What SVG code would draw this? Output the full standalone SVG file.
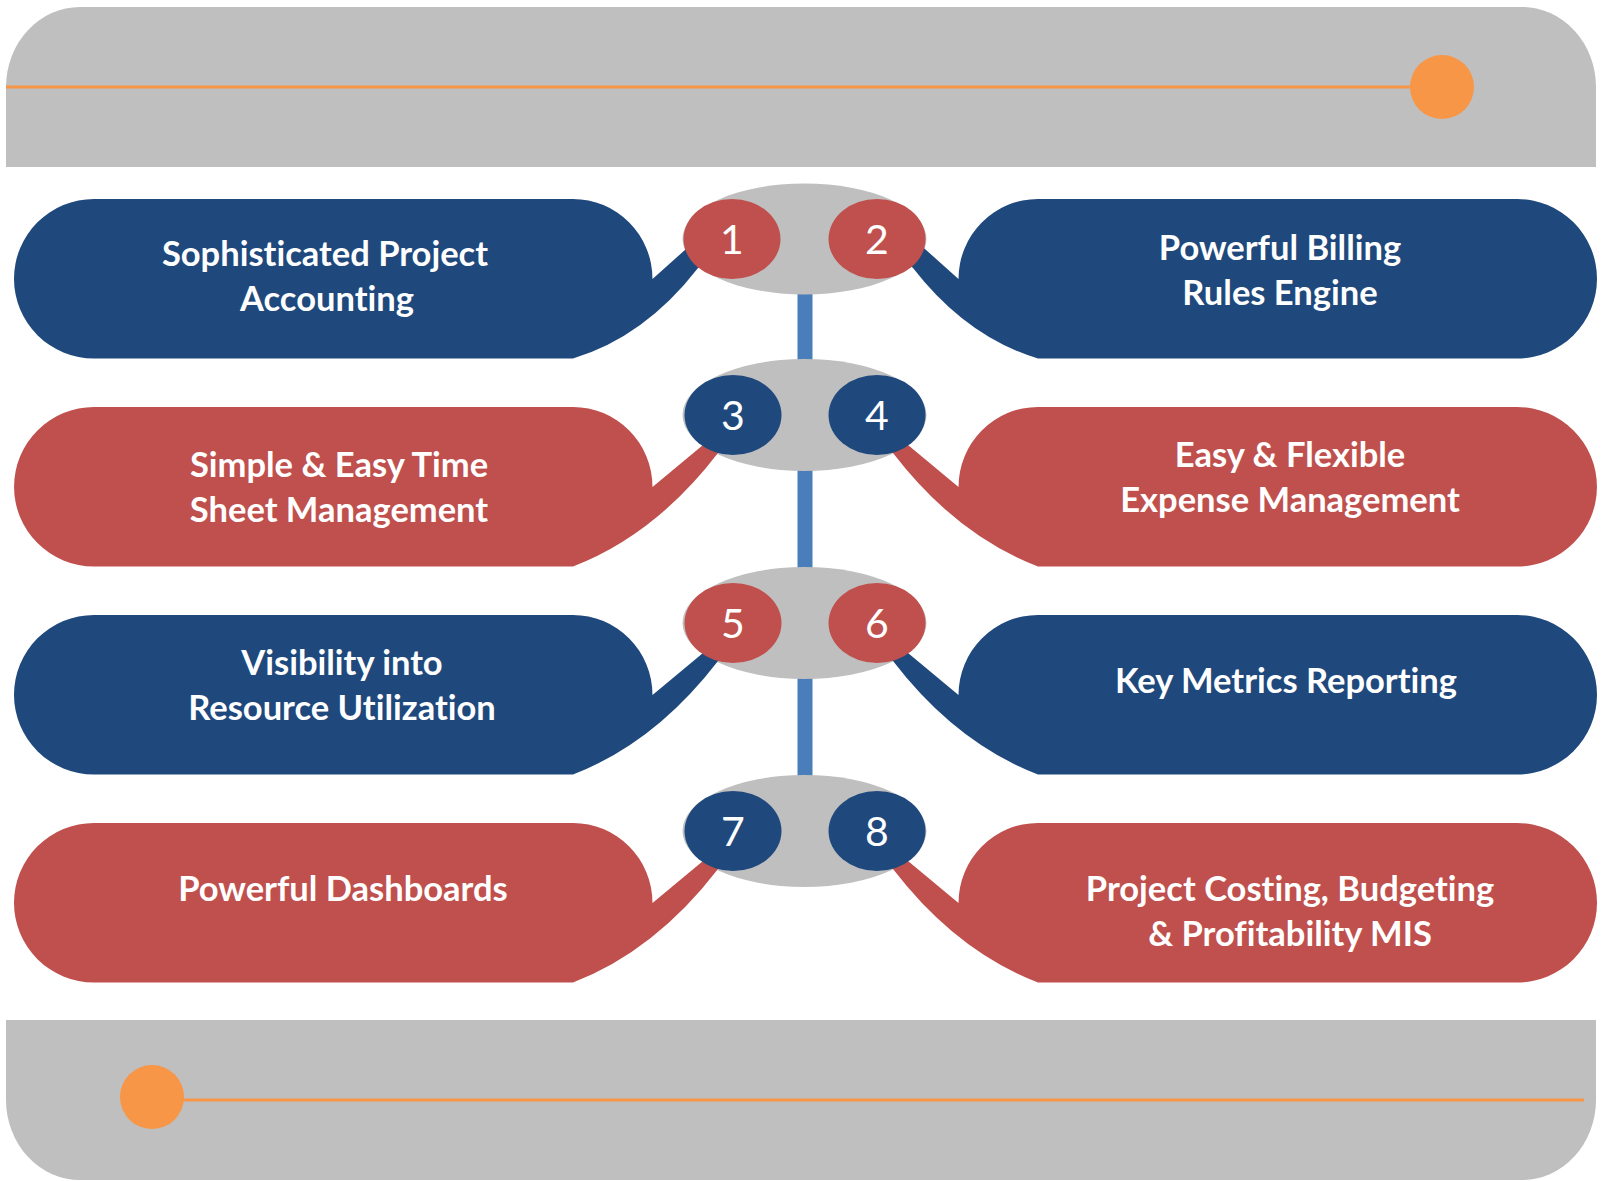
<svg xmlns="http://www.w3.org/2000/svg" width="1604" height="1181" viewBox="0 0 1604 1181">
<style>
.band{fill:#BFBFBF}
.oline{stroke:#F79646;stroke-width:3;fill:none}
.odot{fill:#F79646}
.hub{fill:#BFBFBF}
.blue{fill:#1F497D}
.red{fill:#C0504D}
.lbl{font-family:Lato,"Liberation Sans",sans-serif;font-weight:bold;font-size:34.5px;fill:#FFFFFF;text-anchor:middle;font-variant-ligatures:none}
.num{font-family:Lato,"Liberation Sans",sans-serif;font-size:41px;fill:#FFFFFF;text-anchor:middle}
.spine{stroke:#4A7EBB;stroke-width:15}
</style>
<defs>
<path id="p1" d="M94,199 L573,199 A79.5,80 0 0 1 652.5,279 L700,236.5 L708,258 L698,268 Q644.5,337 573,358.5 L94,358.5 A80,79.75 0 0 1 94,199 Z"/>
<path id="p2" d="M94,407 L573,407 A79.5,80 0 0 1 652.5,487 L715,435 L728,445 L718,453 Q655,535 573,566.5 L94,566.5 A80,79.75 0 0 1 94,407 Z"/>
<path id="p3" d="M94,615 L573,615 A79.5,80 0 0 1 652.5,695 L715,643 L728,653 L718,661 Q655,743 573,774.5 L94,774.5 A80,79.75 0 0 1 94,615 Z"/>
<path id="p4" d="M94,823 L573,823 A79.5,80 0 0 1 652.5,903 L715,851 L728,861 L718,869 Q655,951 573,982.5 L94,982.5 A80,79.75 0 0 1 94,823 Z"/>
</defs>

<g id="top-banner">
<path class="band" d="M6,167 L6,87 A74,80 0 0 1 80,7 L1522,7 A74,80 0 0 1 1596,87 L1596,167 Z"/>
<line class="oline" x1="6" y1="87" x2="1410" y2="87"/>
<circle class="odot" cx="1442" cy="87" r="32"/>
</g>
<g id="bottom-banner">
<path class="band" d="M6,1020 L1596,1020 L1596,1100 A74,80 0 0 1 1522,1180 L80,1180 A74,80 0 0 1 6,1100 Z"/>
<line class="oline" x1="180" y1="1100" x2="1584" y2="1100"/>
<circle class="odot" cx="152" cy="1097" r="32"/>
</g>

<g id="connectors">
<line class="spine" x1="805" y1="240" x2="805" y2="830"/>
</g>

<g id="hubs">
<ellipse class="hub" cx="804.5" cy="239" rx="122" ry="55.5"/>
<ellipse class="hub" cx="804.5" cy="415" rx="122" ry="56"/>
<ellipse class="hub" cx="804.5" cy="623" rx="122" ry="56"/>
<ellipse class="hub" cx="804.5" cy="831" rx="122" ry="56"/>
</g>

<g id="node-1">
<use href="#p1" class="blue"/>
<text class="lbl" x="325" y="266">Sophisticated Project</text>
<text class="lbl" x="327" y="311">Accounting</text>
</g>
<g id="node-2">
<use href="#p1" class="blue" transform="matrix(-1 0 0 1 1611 0)"/>
<text class="lbl" x="1280" y="260">Powerful Billing</text>
<text class="lbl" x="1280" y="305">Rules Engine</text>
</g>
<g id="node-3">
<use href="#p2" class="red"/>
<text class="lbl" x="339" y="477">Simple &amp; Easy Time</text>
<text class="lbl" x="339" y="522">Sheet Management</text>
</g>
<g id="node-4">
<use href="#p2" class="red" transform="matrix(-1 0 0 1 1611 0)"/>
<text class="lbl" x="1290" y="467">Easy &amp; Flexible</text>
<text class="lbl" x="1290" y="512">Expense Management</text>
</g>
<g id="node-5">
<use href="#p3" class="blue"/>
<text class="lbl" x="342" y="675">Visibility into</text>
<text class="lbl" x="342" y="720">Resource Utilization</text>
</g>
<g id="node-6">
<use href="#p3" class="blue" transform="matrix(-1 0 0 1 1611 0)"/>
<text class="lbl" x="1286" y="693">Key Metrics Reporting</text>
</g>
<g id="node-7">
<use href="#p4" class="red"/>
<text class="lbl" x="343" y="901">Powerful Dashboards</text>
</g>
<g id="node-8">
<use href="#p4" class="red" transform="matrix(-1 0 0 1 1611 0)"/>
<text class="lbl" x="1290" y="901">Project Costing, Budgeting</text>
<text class="lbl" x="1290" y="946">&amp; Profitability MIS</text>
</g>

<g id="badge-1"><ellipse class="red" cx="732" cy="239" rx="48.5" ry="40"/><text class="num" x="732" y="254">1</text></g>
<g id="badge-2"><ellipse class="red" cx="877" cy="239" rx="48.5" ry="40"/><text class="num" x="877" y="254">2</text></g>
<g id="badge-3"><ellipse class="blue" cx="733" cy="415" rx="48.5" ry="40"/><text class="num" x="733" y="430">3</text></g>
<g id="badge-4"><ellipse class="blue" cx="877" cy="415" rx="48.5" ry="40"/><text class="num" x="877" y="430">4</text></g>
<g id="badge-5"><ellipse class="red" cx="733" cy="623" rx="48.5" ry="40"/><text class="num" x="733" y="638">5</text></g>
<g id="badge-6"><ellipse class="red" cx="877" cy="623" rx="48.5" ry="40"/><text class="num" x="877" y="638">6</text></g>
<g id="badge-7"><ellipse class="blue" cx="733" cy="831" rx="48.5" ry="40"/><text class="num" x="733" y="846">7</text></g>
<g id="badge-8"><ellipse class="blue" cx="877" cy="831" rx="48.5" ry="40"/><text class="num" x="877" y="846">8</text></g>
</svg>
